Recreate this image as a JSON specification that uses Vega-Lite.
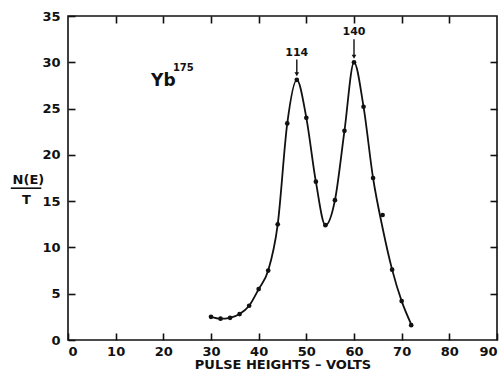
{
  "$schema": "https://vega.github.io/schema/vega-lite/v6.json",
  "autosize": {"type": "none"},
  "padding": {"left": 68, "top": 16, "right": 3, "bottom": 31},
  "width": 429,
  "height": 324,
  "config": {
    "view": {"stroke": "#111", "strokeWidth": 1.6, "fill": null},
    "font": "DejaVu Sans",
    "axis": {
      "domain": false,
      "grid": false,
      "labelFont": "DejaVu Sans",
      "labelFontWeight": "bold",
      "labelFontSize": 13,
      "labelColor": "#111"
    }
  },
  "resolve": {"axis": {"x": "independent", "y": "independent"}},
  "datasets": {
    "pts": [
      {"v": 30, "n": 2.5, "c": 2.5},
      {"v": 32, "n": 2.3, "c": 2.3},
      {"v": 34, "n": 2.4, "c": 2.4},
      {"v": 36, "n": 2.8, "c": 2.8},
      {"v": 38, "n": 3.7, "c": 3.7},
      {"v": 40, "n": 5.5, "c": 5.5},
      {"v": 42, "n": 7.5, "c": 7.5},
      {"v": 44, "n": 12.5, "c": 12.5},
      {"v": 46, "n": 23.4, "c": 23.4},
      {"v": 48, "n": 28.1, "c": 28.1},
      {"v": 50, "n": 24.0, "c": 24.0},
      {"v": 52, "n": 17.1, "c": 17.1},
      {"v": 54, "n": 12.4, "c": 12.4},
      {"v": 56, "n": 15.1, "c": 15.1},
      {"v": 58, "n": 22.6, "c": 22.6},
      {"v": 60, "n": 30.0, "c": 30.0},
      {"v": 62, "n": 25.2, "c": 25.2},
      {"v": 64, "n": 17.5, "c": 17.5},
      {"v": 66, "n": 13.5, "c": 12.1},
      {"v": 68, "n": 7.6, "c": 7.6},
      {"v": 70, "n": 4.2, "c": 4.2},
      {"v": 72, "n": 1.6, "c": 1.7}
    ],
    "labels": [
      {"v": 48, "n": 31.0, "t": "114", "s": 11},
      {"v": 60, "n": 33.3, "t": "140", "s": 11},
      {"v": 20.0, "n": 28.0, "t": "Yb", "s": 17},
      {"v": 24.2, "n": 29.4, "t": "175", "s": 10},
      {"v": -8.3, "n": 17.3, "t": "N(E)", "s": 13},
      {"v": -8.7, "n": 15.1, "t": "T", "s": 13}
    ],
    "arrows": [
      {"v": 48, "n1": 30.3, "n2": 28.7},
      {"v": 60, "n1": 32.5, "n2": 30.6}
    ]
  },
  "layer": [
    {
      "data": {"name": "pts"},
      "mark": {"type": "line", "interpolate": "monotone", "color": "#111", "strokeWidth": 1.8},
      "encoding": {
        "x": {"field": "v", "type": "quantitative", "scale": {"domain": [0, 90], "nice": false},
          "axis": {"orient": "bottom", "zindex": 2, "values": [0,10,20,30,40,50,60,70,80,90], "ticks": true, "tickSize": -7, "tickColor": "#111", "tickWidth": 1.6, "labelPadding": 12,
            "title": "PULSE HEIGHTS – VOLTS", "titleFont": "DejaVu Sans", "titleFontWeight": "bold", "titleFontSize": 13, "titleColor": "#111", "titlePadding": 0}},
        "y": {"field": "c", "type": "quantitative", "scale": {"domain": [0, 35], "nice": false},
          "axis": {"orient": "left", "zindex": 2, "values": [0,5,10,15,20,25,30,35], "ticks": true, "tickSize": -7, "tickColor": "#111", "tickWidth": 1.6, "labelPadding": 15, "title": null}}
      }
    },
    {
      "data": {"name": "pts"},
      "mark": {"type": "point", "filled": true, "color": "#111", "size": 22, "opacity": 1},
      "encoding": {
        "x": {"field": "v", "type": "quantitative", "axis": {"orient": "top", "zindex": 2, "labels": false, "ticks": true, "tickSize": -7, "tickColor": "#111", "tickWidth": 1.6, "values": [10,20,30,40,50,60,70,80], "title": null}},
        "y": {"field": "n", "type": "quantitative", "axis": {"orient": "right", "zindex": 2, "labels": false, "ticks": true, "tickSize": -7, "tickColor": "#111", "tickWidth": 1.6, "values": [5,10,15,20,25,30], "title": null}}
      }
    },
    {
      "data": {"name": "arrows"},
      "mark": {"type": "rule", "color": "#111", "strokeWidth": 1.4},
      "encoding": {
        "x": {"field": "v", "type": "quantitative", "axis": null},
        "y": {"field": "n1", "type": "quantitative", "axis": null},
        "y2": {"field": "n2"}
      }
    },
    {
      "data": {"name": "arrows"},
      "mark": {"type": "point", "shape": "triangle-down", "filled": true, "color": "#111", "size": 22, "opacity": 1},
      "encoding": {
        "x": {"field": "v", "type": "quantitative", "axis": null},
        "y": {"field": "n2", "type": "quantitative", "axis": null}
      }
    },
    {
      "data": {"name": "labels"},
      "mark": {"type": "text", "color": "#111", "fontWeight": "bold", "clip": false},
      "encoding": {
        "x": {"field": "v", "type": "quantitative", "axis": null},
        "y": {"field": "n", "type": "quantitative", "axis": null},
        "text": {"field": "t"},
        "size": {"field": "s", "type": "quantitative", "scale": null}
      }
    },
    {
      "data": {"values": [{"a": -12.0, "b": -5.6, "n": 16.4}]},
      "mark": {"type": "rule", "color": "#111", "strokeWidth": 1.6, "clip": false},
      "encoding": {
        "x": {"field": "a", "type": "quantitative", "axis": null},
        "x2": {"field": "b"},
        "y": {"field": "n", "type": "quantitative", "axis": null}
      }
    }
  ]
}
